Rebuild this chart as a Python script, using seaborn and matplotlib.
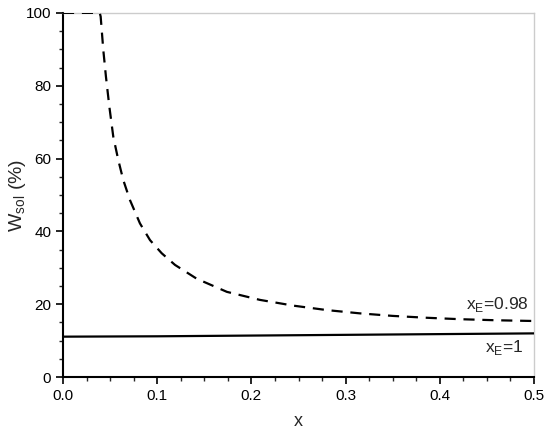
import numpy as np
import pandas as pd
import matplotlib
matplotlib.use("Agg")
import matplotlib.pyplot as plt
import seaborn as sns
from matplotlib.ticker import MultipleLocator, FormatStrFormatter

# values
x_098 = [0.0, 0.039, 0.040, 0.0428, 0.0456, 0.0492, 0.0534, 0.0587, 0.064,
         0.0711, 0.0817, 0.0924, 0.1048, 0.1189, 0.142, 0.174, 0.209,
         0.245, 0.280, 0.315, 0.350, 0.385, 0.421, 0.460, 0.500]
w_098 = [100.0, 100.0, 99.0, 89.8, 82.5, 74.3, 66.0, 59.6, 54.1,
         48.6, 42.2, 37.6, 34.0, 30.8, 27.0, 23.4, 21.2,
         19.6, 18.4, 17.5, 16.8, 16.3, 15.9, 15.6, 15.4]

x_1 = [0.0, 0.1, 0.2, 0.3, 0.4, 0.5]
w_1 = [11.1, 11.2, 11.4, 11.6, 11.8, 12.0]

df = pd.concat([
    pd.DataFrame({"x": x_098, "W": w_098, "case": "0.98"}),
    pd.DataFrame({"x": x_1, "W": w_1, "case": "1"}),
])

sns.set_style("ticks")
plt.rcParams["font.family"] = ["Liberation Sans", "DejaVu Sans"]

fig = plt.figure(figsize=(5.5, 4.29), dpi=100)
ax = fig.add_axes([0.1145, 0.121, 0.8565, 0.849])

sns.lineplot(data=df, x="x", y="W", style="case", color="black",
             dashes={"0.98": (5, 3.5), "1": ""}, linewidth=1.6,
             legend=False, ax=ax, sort=False, estimator=None)
# let the capped part of the dashed curve show along the top edge
for line in ax.lines:
    line.set_zorder(3)

ax.set_xlim(0, 0.5)
ax.set_ylim(0, 100)
ax.xaxis.set_major_locator(MultipleLocator(0.1))
ax.xaxis.set_minor_locator(MultipleLocator(0.025))
ax.yaxis.set_major_locator(MultipleLocator(20))
ax.yaxis.set_minor_locator(MultipleLocator(5))
ax.xaxis.set_major_formatter(FormatStrFormatter("%.1f"))

ax.tick_params(which="major", direction="out", length=5, width=1.2,
               labelsize=11, colors="black", top=False, right=False)
ax.tick_params(which="minor", direction="out", length=3, width=1.0,
               top=False, right=False)

for s in ["left", "bottom"]:
    ax.spines[s].set_color("black")
    ax.spines[s].set_linewidth(1.5)
for s in ["top", "right"]:
    ax.spines[s].set_visible(True)
    ax.spines[s].set_color("#cccccc")
    ax.spines[s].set_linewidth(1.0)

ax.set_xlabel("x", fontsize=13, labelpad=7)
ax.set_ylabel(r"W$_{\mathregular{sol}}$ (%)", fontsize=14, labelpad=-2)

ax.text(0.494, 19.8, r"x$_{\mathregular{E}}$=0.98", fontsize=12.5,
        ha="right", va="center")
ax.text(0.489, 8.2, r"x$_{\mathregular{E}}$=1", fontsize=12.5,
        ha="right", va="center")

fig.savefig("out.png", dpi=100)
